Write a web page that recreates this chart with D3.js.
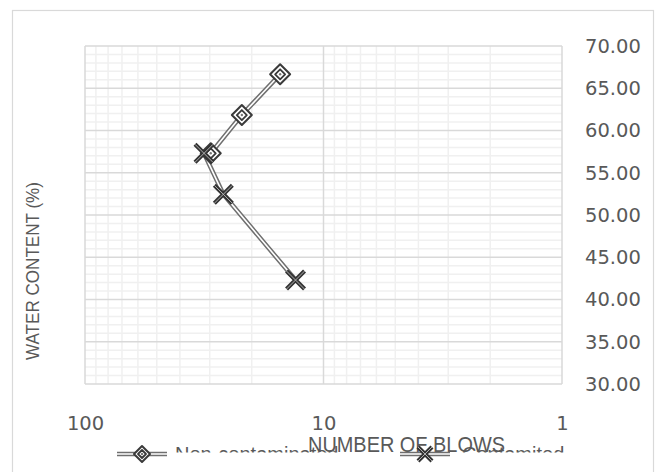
<!DOCTYPE html>
<html>
<head>
<meta charset="utf-8">
<script src="https://cdn.jsdelivr.net/npm/d3@7.9.0/dist/d3.min.js"></script>
<style>
  body { margin: 0; background: #fff; }
  svg { display: block; }
</style>
</head>
<body>
<svg id="chart"></svg>
<script>
// values
let blowsNon = [15.2, 22.0, 29.7];
let waterNon = [66.65, 61.83, 57.3];
let blowsCon = [31.7, 26.3, 13.1];
let waterCon = [57.3, 52.45, 42.3];
let xTicks = [100, 10, 1];
let yTicks = [30, 35, 40, 45, 50, 55, 60, 65, 70];
let seriesNames = ['Non-contaminated', 'Contamited'];

let svg = d3.select('#chart').attr('width', 655).attr('height', 472);

// outer chart frame (bottom runs off the picture)
svg.append('rect')
  .attr('x', 12.5).attr('y', 10.5)
  .attr('width', 641).attr('height', 480)
  .attr('fill', '#fff').attr('stroke', '#d9d9d9').attr('stroke-width', 1.2);

let x = d3.scaleLog().domain([100, 1]).range([85, 562]);
let y = d3.scaleLinear().domain([30, 70]).range([384, 46]);

let grid = svg.append('g');

// minor grid
let minorY = d3.range(30, 71, 1).filter(v => v % 5 !== 0);
grid.selectAll('.hmin').data(minorY).join('line')
  .attr('x1', x(100)).attr('x2', x(1))
  .attr('y1', d => y(d)).attr('y2', d => y(d))
  .attr('stroke', '#f0f0f0').attr('stroke-width', 1.5);

let minorX = [2, 3, 4, 5, 6, 7, 8, 9, 20, 30, 40, 50, 60, 70, 80, 90];
grid.selectAll('.vmin').data(minorX).join('line')
  .attr('x1', d => x(d)).attr('x2', d => x(d))
  .attr('y1', y(30)).attr('y2', y(70))
  .attr('stroke', '#f0f0f0').attr('stroke-width', 1.5);

// major grid
grid.selectAll('.hmaj').data(yTicks).join('line')
  .attr('x1', x(100)).attr('x2', x(1))
  .attr('y1', d => y(d)).attr('y2', d => y(d))
  .attr('stroke', '#d9d9d9').attr('stroke-width', 1.5);

grid.selectAll('.vmaj').data(xTicks).join('line')
  .attr('x1', d => x(d)).attr('x2', d => x(d))
  .attr('y1', y(30)).attr('y2', y(70))
  .attr('stroke', '#d9d9d9').attr('stroke-width', 1.5);

// axes (labels only)
let yAxis = svg.append('g')
  .attr('transform', `translate(${x(1)},0)`)
  .call(d3.axisRight(y).tickValues(yTicks).tickFormat(d3.format('.2f')).tickSize(0).tickPadding(23));
yAxis.select('.domain').remove();
yAxis.selectAll('text')
  .attr('font-family', 'DejaVu Sans').attr('font-size', 19.5).attr('fill', '#595959');

let xAxis = svg.append('g')
  .attr('transform', `translate(0,${y(30)})`)
  .call(d3.axisBottom(x).tickValues(xTicks).tickFormat(d3.format('d')).tickSize(0).tickPadding(32));
xAxis.select('.domain').remove();
xAxis.selectAll('text')
  .attr('font-family', 'DejaVu Sans').attr('font-size', 19.5).attr('fill', '#595959');

// axis titles
svg.append('text')
  .attr('transform', 'translate(39,271) rotate(-90)')
  .attr('text-anchor', 'middle')
  .attr('textLength', 178).attr('lengthAdjust', 'spacingAndGlyphs')
  .attr('font-family', 'Liberation Sans, Arial, sans-serif')
  .attr('font-size', 17.5).attr('fill', '#595959')
  .text('WATER CONTENT (%)');

svg.append('text')
  .attr('x', 308).attr('y', 452)
  .attr('textLength', 197).attr('lengthAdjust', 'spacingAndGlyphs')
  .attr('font-family', 'Liberation Sans, Arial, sans-serif')
  .attr('font-size', 22).attr('fill', '#595959')
  .text('NUMBER OF BLOWS');

// double (compound) line
function doubleLine(g, pts) {
  let line = d3.line().x(d => x(d[0])).y(d => y(d[1]));
  g.append('path').attr('d', line(pts)).attr('fill', 'none')
    .attr('stroke', '#6f6f6f').attr('stroke-width', 4.6);
  g.append('path').attr('d', line(pts)).attr('fill', 'none')
    .attr('stroke', '#fff').attr('stroke-width', 1.6);
}

function diamond(g, cx, cy, r) {
  let d = (s) => `M${cx},${cy - s}L${cx + s},${cy}L${cx},${cy + s}L${cx - s},${cy}Z`;
  g.append('path').attr('d', d(r)).attr('fill', '#fff')
    .attr('stroke', '#3a3a3a').attr('stroke-width', 2).attr('stroke-linejoin', 'round');
  g.append('path').attr('d', d(r * 0.5)).attr('fill', 'none')
    .attr('stroke', '#3a3a3a').attr('stroke-width', 1.8).attr('stroke-linejoin', 'round');
  g.append('circle').attr('cx', cx).attr('cy', cy).attr('r', 1.2).attr('fill', '#777');
}

function cross(g, cx, cy, r) {
  let p = `M${cx - r},${cy - r}L${cx + r},${cy + r}M${cx - r},${cy + r}L${cx + r},${cy - r}`;
  g.append('path').attr('d', p).attr('stroke', '#333').attr('stroke-width', 4.2);
  g.append('path').attr('d', p).attr('stroke', '#bbb').attr('stroke-width', 0.9);
}

let nonPts = blowsNon.map((b, i) => [b, waterNon[i]]);
let conPts = blowsCon.map((b, i) => [b, waterCon[i]]);

let marks = svg.append('g');
doubleLine(marks, nonPts);
doubleLine(marks, conPts);
nonPts.forEach(d => diamond(marks, x(d[0]), y(d[1]), 10));
conPts.forEach(d => cross(marks, x(d[0]), y(d[1]), 9));

// legend, its text is clipped as in the reference
svg.append('clipPath').attr('id', 'legclip')
  .append('rect').attr('x', 0).attr('y', 0).attr('width', 655).attr('height', 452.5);

let legend = svg.append('g');
let legItems = [
  { name: seriesNames[0], x0: 117, kind: 'diamond', tx: 175 },
  { name: seriesNames[1], x0: 400, kind: 'cross', tx: 462 }
];
legItems.forEach(it => {
  let ly = 454;
  let g = legend.append('g');
  g.append('line').attr('x1', it.x0).attr('x2', it.x0 + 50).attr('y1', ly - 1.6).attr('y2', ly - 1.6)
    .attr('stroke', '#6f6f6f').attr('stroke-width', 1.5);
  g.append('line').attr('x1', it.x0).attr('x2', it.x0 + 50).attr('y1', ly + 1.6).attr('y2', ly + 1.6)
    .attr('stroke', '#6f6f6f').attr('stroke-width', 1.5);
  if (it.kind === 'diamond') diamond(g, it.x0 + 25, ly, 8);
  else cross(g, it.x0 + 25, ly, 7);
  legend.append('text')
    .attr('x', it.tx).attr('y', 460.5)
    .attr('clip-path', 'url(#legclip)')
    .attr('font-family', 'Liberation Sans, Arial, sans-serif')
    .attr('font-size', 20).attr('fill', '#595959')
    .text(it.name);
});
</script>
</body>
</html>
